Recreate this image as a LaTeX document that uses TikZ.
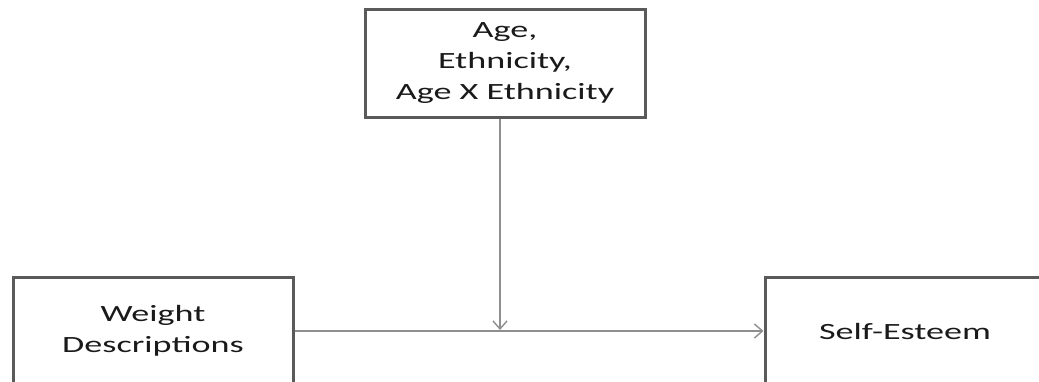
\documentclass[tikz,border=0pt]{standalone}
\usepackage{fontspec}
\newfontfamily\wfont[FakeStretch=1.55]{Carlito}
\usetikzlibrary{arrows.meta}
\definecolor{boxline}{HTML}{5A5A5A}
\definecolor{conn}{HTML}{8F8F8F}
\definecolor{txt}{HTML}{1A1A1A}
\tikzset{
  varbox/.style={draw=boxline, line width=3pt, fill=white, minimum width=280pt, minimum height=108pt,
    inner sep=0pt, align=center, text=txt, font=\wfont\fontsize{23.3}{31}\selectfont},
  arr/.style={draw=conn, line width=1.6pt, -{Straight Barb[length=8pt,width=14pt,line width=1.4pt]}}
}
\begin{document}
\begin{tikzpicture}[x=1pt,y=-1pt]
\useasboundingbox (0,0) rectangle (1039,381);
\clip (0,0) rectangle (1039,381);
\fill[white] (0,0) rectangle (1039,381);
\node[varbox] (mod) at (505,63) {Age,\\Ethnicity,\\Age X Ethnicity};
\node[varbox] (wd) at (153,331) {Weight\\Descriptions};
\node[varbox] (se) at (905,331) {Self-Esteem};
\coordinate (m) at (500,330);
\draw[arr] (wd.east) -- (se.west);
\draw[arr] (m |- mod.south) -- (m);
\end{tikzpicture}
\end{document}
